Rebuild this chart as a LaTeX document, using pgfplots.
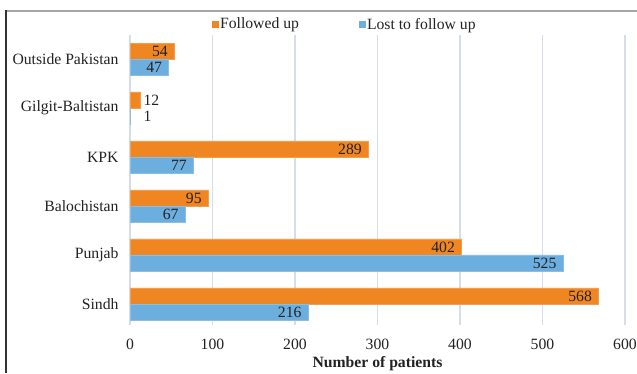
\documentclass[border=0pt]{standalone}
\usepackage{pgfplots}
\pgfplotsset{compat=1.18}
\usepackage{fontspec}
\setmainfont{Liberation Serif}

\definecolor{fuorange}{HTML}{F08622}
\definecolor{ltfblue}{HTML}{6CAEDE}
\definecolor{gridc}{HTML}{D6DDE8}
\definecolor{txt}{HTML}{222222}

% Patients per region
\pgfplotstableread{
pos followed lost
0   568 216
1   402 525
2   95  67
3   289 77
4   12  1
5   54  47
}\regiondata

\begin{document}
\begin{tikzpicture}[x=1bp,y=1bp]
\useasboundingbox (0,0) rectangle (637,373);
% page frame
\draw[black!35, line width=1.2bp] (5,362) -- (637,362);
\draw[black!80, line width=2.5bp] (6,362.6) -- (6,0);
\begin{axis}[
  at={(130bp,48bp)}, anchor=south west,
  scale only axis, width=495bp, height=290bp,
  xbar, bar width=16bp,
  xmin=0, xmax=600, ymin=-0.43, ymax=5.49,
  xtick={0,100,...,600},
  ytick={0,...,5},
  yticklabels={Sindh,Punjab,Balochistan,KPK,Gilgit-Baltistan,Outside Pakistan},
  axis line style={draw=none},
  major tick length=0pt,
  xmajorgrids, grid style={gridc, line width=1.3bp},
  font=\fontsize{15.7bp}{18bp}\selectfont,
  tick label style={text=txt},
  /pgf/number format/assume math mode=true,
  xticklabel style={yshift=-11bp},
  yticklabel style={xshift=-8bp},
  xlabel={\textbf{Number of patients}},
  xlabel style={text=txt, yshift=1bp},
  legend style={at={(0.433,1.037)}, anchor=center, draw=none, fill=none,
    legend columns=2, text=txt, nodes={inner xsep=1.5bp},
    /tikz/every even column/.append style={column sep=58bp}},
  legend image code/.code={\path[#1, draw=none] (0bp,-3.5bp) rectangle (7bp,3.5bp);},
  nodes near coords,
  visualization depends on={rawx \as \barval},
  every node near coord/.append style={text=txt,
    font=\fontsize{15.7bp}{18bp}\selectfont,
    % short bars carry their value outside, long ones inside the bar end
    /utils/exec={%
      \pgfmathparse{\barval<20}%
      \ifdim\pgfmathresult pt>0.5pt \def\nnanchor{west}\else\def\nnanchor{east}\fi
      \pgfmathparse{\barval<5 ? 9 : (\barval<20 ? 0 : -3)}%
      \let\nnshift\pgfmathresult},
    anchor=\nnanchor, xshift=\nnshift bp},
]
\addplot[fill=fuorange, draw=fuorange!80!white, line width=0.8bp, bar shift=8bp]
  table[x=followed, y=pos] {\regiondata};
\addlegendentry{Followed up}
\addplot[fill=ltfblue, draw=ltfblue!80!white, line width=0.8bp, bar shift=-8bp]
  table[x=lost, y=pos] {\regiondata};
\addlegendentry{Lost to follow up}
\end{axis}
\end{tikzpicture}
\end{document}
